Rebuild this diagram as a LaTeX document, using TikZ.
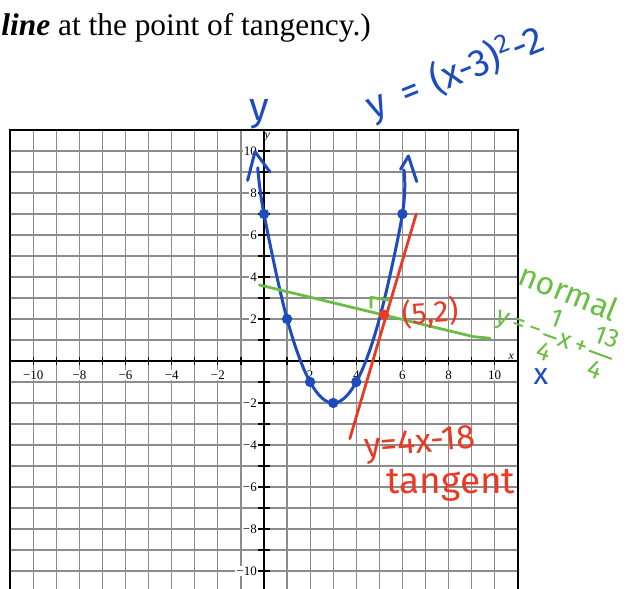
\documentclass[tikz,border=0pt]{standalone}
\usepackage{amsmath}
\usepackage{fontspec}
\setmainfont{Liberation Serif}
\newfontfamily\handfont{Fira Sans}
\definecolor{PenBlue}{HTML}{1E4CBE}
\definecolor{PenRed}{HTML}{EA3A24}
\definecolor{PenGreen}{HTML}{6BBE45}
\definecolor{GridGray}{HTML}{8C8C8C}
% stacked handwritten fraction
\newcommand\handfrac[2]{\ensuremath{\genfrac{}{}{1pt}{0}{\text{#1}}{\text{#2}}}}

\begin{document}
\begin{tikzpicture}[x=11.535pt, y=10.5pt]
  \tikzset{
  gridline/.style={GridGray, line width=0.6pt},
  axisline/.style={black, line width=0.9pt},
  tickmark/.style={black, line width=0.6pt},
  ticklab/.style={fill=white, inner sep=0.5pt, font=\fontsize{6.5}{7}\selectfont},
  axisname/.style={inner sep=0, font=\fontsize{6}{6}\selectfont\itshape},
  bluepen/.style={PenBlue, line width=1.5pt, line cap=round, line join=round},
  redpen/.style={PenRed, line width=1.4pt, line cap=round},
  greenpen/.style={PenGreen, line width=1.4pt, line cap=round, line join=round},
  ptdot/.style={circle, fill, inner sep=0, minimum size=5.2pt},
  handlab/.style={inner sep=0, font=\handfont\fontsize{15}{15}\selectfont},
}
\useasboundingbox (-11.443,-10.857) rectangle (15.865,17.190);
\clip (-11.443,-10.857) rectangle (15.865,17.190);

% ── Question text (cut off at the left) ─────────────────────
\node[anchor=base west, inner sep=0, font=\fontsize{15.7}{18}\selectfont]
  (question) at (-11.40,15.52) {\textbf{\textit{line}} at the point of tangency.)};

% ── Grid paper ──────────────────────────────────────────────
\foreach \i in {-10,...,10} {
  \draw[gridline] (\i,-11) -- (\i,11);
  \draw[gridline] (-11,\i) -- (11,\i);
}
\draw[black, line width=0.8pt] (-11,-11) -- (-11,11) -- (11,11) -- (11,-11);

% tick labels
\foreach \i in {-10,-8,-6,-4,-2,2,4,6,8,10} {
  \node[ticklab] (xl\i) at (\i,-0.67)
    {\ifnum\i<0 −\the\numexpr-\i\relax\else\i\fi};
  \node[ticklab, anchor=east] (yl\i) at (-0.25,\i)
    {\ifnum\i<0 −\the\numexpr-\i\relax\else\i\fi};
}

% axes and ticks
\draw[axisline] (-11,0) -- (11,0);
\draw[axisline] (0,-11) -- (0,11);
\foreach \i in {-10,...,10} {
  \draw[tickmark] (\i,-0.2) -- (\i,0.2);
  \draw[tickmark] (-0.25,\i) -- (0.25,\i);
}
\node[axisname] (xname) at (10.72,0.2) {x};
\node[axisname] (yname) at (0.14,10.68) {y};

% ── Parabola y=(x-3)^2-2 (blue pen) ─────────────────────────
\draw[bluepen] plot[smooth, tension=0.6] coordinates
  {(-0.27,9.2) (0,7) (1,2) (2,-1) (3,-2) (4,-1) (5,2) (6,7) (6.07,9.1)};
\draw[bluepen] (-0.71,8.6) -- (-0.39,9.97) -- (0.26,9.0);
\draw[bluepen] (5.92,9.13) -- (6.26,9.76) -- (6.62,8.54);
\foreach \px/\py [count=\k] in {0/7,1/2,2/-1,3/-2,4/-1,6/7}
  \node[ptdot, PenBlue] (pt\k) at (\px,\py) {};

% ── Tangent line (red pen) ──────────────────────────────────
\draw[redpen] (3.72,-3.7) -- (6.6,7.0);

% ── Normal line (green pen) ─────────────────────────────────
\draw[greenpen] (-0.2,3.62) -- (9.07,1.16) -- (9.8,1.08);
\draw[greenpen] (4.64,2.55) -- (4.64,3.03) -- (5.43,2.9);

\node[ptdot, PenRed] (tanpt) at (5.2,2.2) {};

% ── Handwritten labels ──────────────────────────────────────
\node[handlab, PenBlue, font=\handfont\fontsize{20}{20}\selectfont]
  (ylab) at (-0.2,11.75) {y};
\node[handlab, PenBlue, font=\handfont\fontsize{19}{19}\selectfont, rotate=22]
  (parab) at (8.3,13.7) {y\hspace{0.45em}=\hspace{0.35em}(x-3)\textsuperscript{2}-2};
\node[handlab, PenBlue, font=\handfont\fontsize{15}{15}\selectfont]
  (xlab) at (12.0,-0.75) {x};

\node[handlab, PenRed, rotate=4] (ptlab) at (7.2,2.29) {(5,2)};
\node[handlab, PenRed, font=\handfont\fontsize{17}{17}\selectfont, rotate=5]
  (tanlab) at (6.76,-4.0) {y=4x-18};
\node[handlab, PenRed, font=\handfont\fontsize{18.5}{18.5}\selectfont]
  (tanname) at (8.1,-5.9) {tangent};

\node[handlab, PenGreen, font=\handfont\fontsize{16}{16}\selectfont, rotate=-22]
  (normname) at (13.22,3.3) {normal};
\node[handlab, PenGreen, font=\handfont\fontsize{13}{13}\selectfont, rotate=-20]
  (normlab) at (12.65,1.15)
  {y\,=\,−\handfrac{1}{4}x\,+\handfrac{13}{4}};

\end{tikzpicture}
\end{document}
